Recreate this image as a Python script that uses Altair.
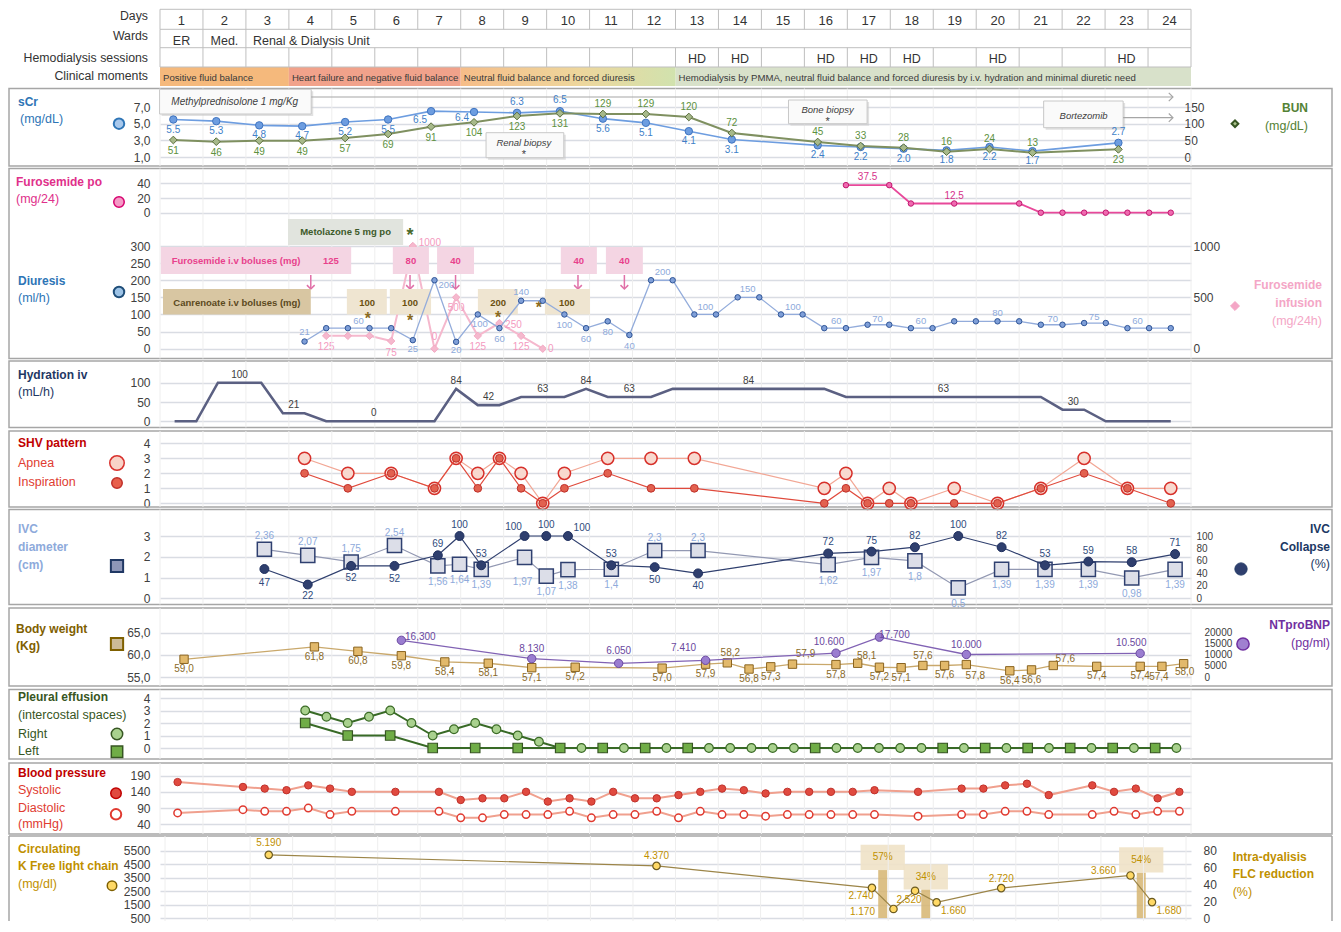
import altair as alt
import pandas as pd

# ------------------------------------------------------------------ data
days = list(range(1, 25))
ward_names = ["ER", "Med.", "Renal & Dialysis Unit"]
ward_start = [1, 2, 3]
ward_end = [1, 2, 24]
hd_days = [13, 14, 16, 17, 18, 20, 23]
moment_names = [
    "Positive fluid balance",
    "Heart failure and negative fluid balance",
    "Neutral fluid balance and forced diuresis",
    "Hemodialysis by PMMA, neutral fluid balance and forced diuresis by i.v. hydration and minimal diuretic need",
]
moment_start = [1, 4, 8, 13]
moment_end = [3, 7, 12, 24]

scr_day = [1, 2, 3, 4, 5, 6, 7, 8, 9, 10, 11, 12, 13, 14, 16, 17, 18, 19, 20, 21, 23]
scr_val = [5.5, 5.3, 4.8, 4.7, 5.2, 5.5, 6.5, 6.4, 6.3, 6.5, 5.6, 5.1, 4.1, 3.1, 2.4, 2.2, 2.0, 1.8, 2.2, 1.7, 2.7]
bun_val = [51, 46, 49, 49, 57, 69, 91, 104, 123, 131, 129, 129, 120, 72, 45, 33, 28, 16, 24, 13, 23]

po_t = [16.5, 17.5, 18, 19, 20.5, 21, 21.5, 22, 22.5, 23, 23.5, 24]
po_val = [37.5, 37.5, 12.5, 12.5, 12.5, 0, 0, 0, 0, 0, 0, 0]
po_lab_t = [17, 19]
po_lab_v = [37.5, 12.5]

diur_t = [4, 4.5, 5, 5.5, 6, 6.5, 7, 7.5, 8, 8.5, 9, 9.5, 10, 10.5, 11, 11.5, 12, 12.5, 13, 13.5,
          14, 14.5, 15, 15.5, 16, 16.5, 17, 17.5, 18, 18.5, 19, 19.5, 20, 20.5, 21, 21.5, 22, 22.5,
          23, 23.5, 24]
diur_val = [21, 60, 60, 60, 60, 25, 200, 20, 100, 60, 140, 140, 100, 60, 80, 40, 200, 200, 100, 100,
            150, 150, 100, 100, 60, 60, 70, 70, 60, 60, 80, 80, 80, 80, 70, 70, 75, 75,
            60, 60, 60]
inf_t = [4.5, 5, 5.5, 6, 6.5, 7, 7.5, 8, 8.5, 9, 9.5]
inf_val = [125, 125, 125, 75, 1000, 0, 500, 125, 250, 125, 0]

hyd_t = [1, 1.5, 2, 3, 3.5, 4, 4.5, 7, 7.5, 8, 8.5, 9, 10, 10.5, 11, 12, 12.5, 16, 16.5, 21, 21.5, 22, 22.5, 24]
hyd_val = [0, 0, 100, 100, 21, 21, 0, 0, 84, 42, 42, 63, 63, 84, 63, 63, 84, 84, 63, 63, 30, 30, 0, 0]
hyd_lab_t = [2.5, 3.75, 5.6, 7.5, 8.25, 9.5, 10.5, 11.5, 14.25, 18.75, 21.75]
hyd_lab_v = [100, 21, 0, 84, 42, 63, 84, 63, 84, 63, 30]

shv_t = [4, 5, 6, 7, 7.5, 8, 8.5, 9, 9.5, 10, 11, 12, 13, 16, 16.5, 17, 17.5, 18, 19, 20, 21, 22, 23, 24]
apnea = [3, 2, 2, 1, 3, 2, 3, 2, 0, 2, 3, 3, 3, 1, 2, 0, 1, 0, 1, 0, 1, 3, 1, 1]
inspiration = [2, 1, 2, 1, 3, 1, 3, 1, 0, 1, 2, 1, 1, 0, 1, 0, 0, 0, 0, 0, 1, 2, 1, 0]

ivc_t = [3, 4, 5, 6, 7, 7.5, 8, 9, 9.5, 10, 11, 12, 13, 16, 17, 18, 19, 20, 21, 22, 23, 24]
ivc_diam = [2.36, 2.07, 1.75, 2.54, 1.56, 1.64, 1.39, 1.97, 1.07, 1.38, 1.4, 2.3, 2.3, 1.62, 1.97, 1.8,
            0.5, 1.39, 1.39, 1.39, 0.98, 1.39]
ivc_coll = [47, 22, 52, 52, 69, 100, 53, 100, 100, 100, 53, 50, 40, 72, 75, 82, 100, 82, 53, 59, 58, 71]

wt_t = [1, 4, 5, 6, 7, 8, 9, 10, 12, 13, 13.5, 14, 14.5, 15, 16, 16.5, 17, 17.5, 18, 18.5, 19, 20,
        20.5, 21, 22, 23, 23.5, 24]
wt_val = [59.0, 61.8, 60.8, 59.8, 58.4, 58.1, 57.1, 57.2, 57.0, 57.9, 58.2, 56.8, 57.3, 57.9, 57.8,
          58.1, 57.2, 57.1, 57.6, 57.6, 57.8, 56.4, 56.6, 57.6, 57.4, 57.4, 57.4, 58.0]
bnp_t = [6, 9, 11, 13, 16, 17, 19, 23]
bnp_val = [16300, 8130, 6050, 7410, 10600, 17700, 10000, 10500]
bnp_lab = ["16,300", "8.130", "6.050", "7.410", "10.600", "17.700", "10.000", "10.500"]

pl_right_t = [4, 4.5, 5, 5.5, 6, 6.5, 7, 7.5, 8, 8.5, 9, 9.5, 10, 10.5, 11, 11.5, 12, 12.5, 13, 13.5,
              14, 14.5, 15, 15.5, 16, 16.5, 17, 17.5, 18, 18.5, 19, 19.5, 20, 20.5, 21, 21.5, 22,
              22.5, 23, 23.5, 24, 24.5]
pl_right = [3, 2.5, 2, 2.5, 3, 2, 1, 1.5, 2, 1.5, 1, 0.5, 0, 0, 0, 0, 0, 0, 0, 0,
            0, 0, 0, 0, 0, 0, 0, 0, 0, 0, 0, 0, 0, 0, 0, 0, 0,
            0, 0, 0, 0, 0]
pl_left_t = [4, 5, 6, 7, 8, 9, 10, 11, 12, 13, 16, 19, 20, 21, 22, 23, 24]
pl_left = [2, 1, 1, 0, 0, 0, 0, 0, 0, 0, 0, 0, 0, 0, 0, 0, 0]

bp_t = [1, 2.5, 3, 3.5, 4, 4.5, 5, 6, 7, 7.5, 8, 8.5, 9, 9.5, 10, 10.5, 11, 11.5, 12, 12.5, 13, 13.5,
        14, 14.5, 15, 15.5, 16, 16.5, 17, 18, 19, 19.5, 20, 20.5, 21, 22, 22.5, 23, 23.5, 24]
bp_sys = [170, 155, 150, 145, 160, 150, 140, 140, 140, 115, 120, 120, 140, 110, 120, 110, 140, 120, 120,
          130, 140, 150, 145, 135, 140, 140, 140, 140, 145, 140, 150, 150, 160, 165, 130, 160, 140,
          150, 120, 140]
bp_dia = [75, 85, 80, 80, 90, 70, 80, 80, 80, 60, 60, 70, 70, 70, 80, 60, 70, 70, 80, 60, 80, 70, 70,
          65, 70, 70, 70, 70, 70, 65, 70, 70, 80, 80, 70, 70, 80, 70, 80, 80]

flc_t = [3, 12, 17, 17.5, 18, 18.5, 20, 23, 23.5]
flc_val = [5190, 4370, 2740, 1170, 2520, 1660, 2720, 3660, 1680]
red_t = [17.25, 18.25, 23.25]
red_val = [57, 34, 54]

# ------------------------------------------------------------------ helpers
FONT = "Liberation Sans, Arial, sans-serif"
W = 1031
XS = alt.Scale(domain=[0.5, 24.5], nice=False, zero=False)
XE = alt.X("d:Q", scale=XS, axis=None)
ONE = pd.DataFrame({"k": [0]})
GRID = "#d9dce3"
BORDER = "#a6a6a6"
VGRID = "#eeeeee"
TBL = "#bfbfbf"
LBL = "#404040"
BOUNDS = [i + 0.5 for i in range(25)]
LEFT, RIGHT = -151, 1172
TS = 12      # title size
VS = 10      # value label size


def txt(s, x, y, color=LBL, size=TS, bold=False, italic=False, align="left"):
    return alt.Chart(ONE).mark_text(
        text=s, font=FONT, fontSize=size, color=color,
        fontWeight="bold" if bold else "normal",
        fontStyle="italic" if italic else "normal",
        align=align, baseline="middle").encode(x=alt.value(x), y=alt.value(y))


def dtxt(s, d, y, color=LBL, size=VS, bold=False, italic=False, align="center", dx=0):
    return alt.Chart(ONE).transform_calculate(d=str(d)).mark_text(
        text=s, font=FONT, fontSize=size, color=color,
        fontWeight="bold" if bold else "normal",
        fontStyle="italic" if italic else "normal",
        align=align, baseline="middle", dx=dx).encode(x=XE, y=alt.value(y))


def mk(x, y, shape, size, fill, stroke, sw=1.5):
    return alt.Chart(ONE).mark_point(
        shape=shape, size=size, filled=True, fill=fill, stroke=stroke,
        strokeWidth=sw, opacity=1).encode(x=alt.value(x), y=alt.value(y))


def dbox(d0, d1, y0, y1, fill, stroke=None, shadow=False, opacity=1):
    out = []
    base = alt.Chart(ONE).transform_calculate(d=str(d0), d2=str(d1))
    if shadow:
        out.append(base.mark_rect(fill="#c8c8c8", opacity=0.55, xOffset=2, x2Offset=2,
                                  yOffset=2, y2Offset=2)
                   .encode(x=XE, x2="d2:Q", y=alt.value(y0), y2=alt.value(y1)))
    kw = dict(fill=fill, opacity=opacity)
    if stroke:
        kw.update(stroke=stroke, strokeWidth=1)
    out.append(base.mark_rect(**kw).encode(x=XE, x2="d2:Q", y=alt.value(y0), y2=alt.value(y1)))
    return out


def hrule(d0, d1, y, color, sw=1):
    return alt.Chart(ONE).transform_calculate(d=str(d0), d2=str(d1)).mark_rule(
        color=color, strokeWidth=sw).encode(x=XE, x2="d2:Q", y=alt.value(y))


def vrules(ds, y0, y1, color, sw=1):
    return alt.Chart(pd.DataFrame({"d": ds})).mark_rule(color=color, strokeWidth=sw).encode(
        x=XE, y=alt.value(y0), y2=alt.value(y1))


def frame(y0, y1, open_bottom=False):
    if not open_bottom:
        return [alt.Chart(ONE).mark_rect(fill="transparent", stroke=BORDER, strokeWidth=1.5).encode(
            x=alt.value(LEFT), x2=alt.value(RIGHT), y=alt.value(y0), y2=alt.value(y1))]
    r = alt.Chart(ONE).mark_rule(color=BORDER, strokeWidth=1.5)
    return [r.encode(x=alt.value(LEFT), x2=alt.value(RIGHT), y=alt.value(y0)),
            r.encode(x=alt.value(LEFT), y=alt.value(y0), y2=alt.value(y1)),
            r.encode(x=alt.value(RIGHT), y=alt.value(y0), y2=alt.value(y1))]


def down_arrow(d, y0, y1, color):
    b = alt.Chart(ONE).transform_calculate(d=str(d))
    return [b.mark_rule(color=color, strokeWidth=1.5).encode(x=XE, y=alt.value(y0), y2=alt.value(y1 - 1)),
            b.mark_point(shape="M-1,-1L0,0L1,-1", size=60, filled=False, stroke=color,
                         strokeWidth=1.5, opacity=1).encode(x=XE, y=alt.value(y1))]


def right_arrow(d0, d1, y, color="#a6a6a6"):
    b = alt.Chart(ONE).transform_calculate(d=str(d1))
    return [hrule(d0, d1, y, color, 1.2),
            b.mark_point(shape="M-1,-1L0,0L-1,1", size=70, filled=False, stroke=color,
                         strokeWidth=1.2, opacity=1).encode(x=XE, y=alt.value(y))]


def series(t, a, b, **cols):
    return alt.Chart(pd.DataFrame({"t": t, **cols})).transform_calculate(d=f"{a} + {b} * datum.t")


def yenc(dom, rng, axis, field="v"):
    return alt.Y(f"{field}:Q", scale=alt.Scale(domain=dom, range=rng, nice=False, zero=False), axis=axis)


def lax(values, expr=None, size=12):
    kw = dict(orient="left", values=values, grid=True, gridColor=GRID, gridWidth=1.5, domain=False,
              ticks=False, labelPadding=10, labelFont=FONT, labelFontSize=size, labelColor=LBL,
              title=None, labelOverlap=False, format="d")
    if expr:
        kw["labelExpr"] = expr
    return alt.Axis(**kw)


def rax(values, offset, size=12):
    return alt.Axis(orient="right", values=values, grid=False, domain=False, ticks=False,
                    labelPadding=0, offset=offset, labelFont=FONT, labelFontSize=size,
                    labelColor=LBL, title=None, labelAlign="left", labelOverlap=False, format="d")


def labels(ch, ts, place, expr, y, color, size=VS, default=None, weight="normal"):
    groups = {}
    for t in ts:
        p = place.get(t, default)
        if p is None:
            continue
        groups.setdefault(p, []).append(t)
    out = []
    for (dx, dy), tl in groups.items():
        out.append(ch.transform_filter(alt.FieldOneOfPredicate(field="t", oneOf=tl))
                   .transform_calculate(lab=expr)
                   .mark_text(font=FONT, fontSize=size, color=color, dx=dx, dy=dy,
                              fontWeight=weight, baseline="middle", align="center")
                   .encode(x=XE, y=y, text="lab:N"))
    return out


def line(ch, y, color, sw=1.5):
    return ch.mark_line(color=color, strokeWidth=sw).encode(x=XE, y=y)


def pts(ch, y, shape, size, fill, stroke, sw=1):
    return ch.mark_point(shape=shape, size=size, filled=True, fill=fill, stroke=stroke,
                         strokeWidth=sw, opacity=1).encode(x=XE, y=y)


COMMA1 = "replace(format(datum.value, '.1f'), '.', ',')"

# ------------------------------------------------------------------ header
hdr = []
mdf = pd.DataFrame({"m": moment_names, "s": moment_start, "e": moment_end, "i": [0, 1, 2, 3]})
mbase = alt.Chart(mdf).transform_calculate(d="datum.s - 0.5", d2="datum.e + 0.5")
mcol = {0: "#f5b97c", 1: "#f1a28b", 3: "#d8e1ca"}
for i, c in mcol.items():
    hdr.append(mbase.transform_filter(f"datum.i == {i}").mark_rect(fill=c)
               .encode(x=XE, x2="d2:Q", y=alt.value(58), y2=alt.value(77)))
grad = alt.LinearGradient(gradient="linear", x1=0, x2=1, y1=0, y2=0, stops=[
    alt.GradientStop(offset=0, color="#f6bd88"),
    alt.GradientStop(offset=0.55, color="#eed69c"),
    alt.GradientStop(offset=1, color="#d1e2ae")])
hdr.append(mbase.transform_filter("datum.i == 2").mark_rect(fill=grad)
           .encode(x=XE, x2="d2:Q", y=alt.value(58), y2=alt.value(77)))
hdr.append(mbase.mark_text(font=FONT, fontSize=9.6, color="#3a3a3a", align="left",
                           baseline="middle", dx=3).encode(x=XE, y=alt.value(68.7), text="m:N"))
for yy in [0.3, 20.3, 38.7, 58.0]:
    hdr.append(hrule(0.5, 24.5, yy, TBL))
hdr.append(vrules(BOUNDS, 0.3, 20.3, TBL))
hdr.append(vrules(BOUNDS, 38.7, 58, TBL))
hdr.append(vrules([s - 0.5 for s in ward_start] + [24.5], 20.3, 38.7, TBL))
hdr.append(alt.Chart(pd.DataFrame({"d": days})).mark_text(
    font=FONT, fontSize=13, color="#333333", baseline="middle").encode(
    x=XE, y=alt.value(12), text="d:Q"))
wdf = pd.DataFrame({"w": ward_names, "s": ward_start, "e": ward_end, "i": [0, 1, 2]})
hdr.append(alt.Chart(wdf).transform_filter("datum.i < 2").transform_calculate(d="(datum.s + datum.e) / 2")
           .mark_text(font=FONT, fontSize=12.5, color="#333333", baseline="middle")
           .encode(x=XE, y=alt.value(31.5), text="w:N"))
hdr.append(alt.Chart(wdf).transform_filter("datum.i == 2").transform_calculate(d="datum.s - 0.5")
           .mark_text(font=FONT, fontSize=12.5, color="#333333", baseline="middle", align="left", dx=7)
           .encode(x=XE, y=alt.value(31.5), text="w:N"))
hdr.append(alt.Chart(pd.DataFrame({"d": hd_days})).mark_text(
    text="HD", font=FONT, fontSize=12.5, color="#333333", baseline="middle").encode(x=XE, y=alt.value(50.3)))
for s, yy in [("Days", 7), ("Wards", 27), ("Hemodialysis sessions", 48.7), ("Clinical moments", 67)]:
    hdr.append(txt(s, -12, yy, color="#333333", size=12.3, align="right"))
row0 = alt.layer(*hdr).properties(width=W, height=78)

# ------------------------------------------------------------------ sCr / BUN
YS = yenc([1, 7], [70, 20], lax([1, 3, 5, 7], COMMA1))
YB = yenc([0, 150], [70, 20], rax([0, 50, 100, 150], -7))
scr_c = series(scr_day, -0.19, 1, v=scr_val)
bun_c = series(scr_day, -0.19, 1, v=bun_val)
l1 = frame(1.5, 79) + [vrules(BOUNDS, 1.5, 79, VGRID)]
l1 += dbox(0.49, 4.02, 2.3, 27, "#fafafa", "#c8c8c8", shadow=True)
l1 += [dtxt("Methylprednisolone 1 mg/Kg", 2.24, 15.2, italic=True, size=10)]
l1 += right_arrow(4.02, 24.08, 10)
l1 += dbox(8.09, 9.9, 45.7, 70.7, "#fafafa", "#c8c8c8", shadow=True)
l1 += [dtxt("Renal biopsy", 8.97, 56.2, italic=True, size=9.5), dtxt("*", 8.97, 67.5, size=11)]
l1 += dbox(15.13, 16.96, 13, 36.7, "#fafafa", "#c8c8c8", shadow=True)
l1 += [dtxt("Bone biopsy", 16.04, 23.2, italic=True, size=9.5), dtxt("*", 16.04, 34.5, size=11)]
l1 += dbox(21.07, 22.92, 14, 40.7, "#fafafa", "#c8c8c8", shadow=True)
l1 += [dtxt("Bortezomib", 22.0, 29, italic=True, size=9.5)]
l1 += right_arrow(22.92, 24.08, 30.7)
l1 += [line(scr_c, YS, "#6d9de0", 1.6), pts(scr_c, YS, "circle", 55, "#6d9de0", "#3f74c0")]
scr_place = {9: (0, -11), 10: (0, -11), 23: (0, -11), 7: (-11, 9), 8: (-12, 6)}
l1 += labels(scr_c, scr_day, scr_place, "format(datum.v, '.1f')", YS, "#3f7fc8", default=(0, 10))
l1 += [txt("sCr", -142, 15, "#2e75b6", bold=True), txt("(mg/dL)", -140, 32, "#2e75b6", size=12.5),
       mk(-41, 36.7, "circle", 110, "#a8c8ec", "#2e75b6", 2)]
r1 = [line(bun_c, YB, "#7f9060", 2), pts(bun_c, YB, "diamond", 60, "#a7b98a", "#5b6e3d")]
bun_place = {d: (0, -10) for d in [11, 12, 13, 14, 16, 17, 18, 19, 20, 21]}
r1 += labels(bun_c, scr_day, bun_place, "toString(datum.v)", YB, "#5d9140", default=(0, 11))
r1 += [txt("BUN", 1148, 20.7, "#548235", bold=True, align="right"),
       txt("(mg/dL)", 1148, 39, "#548235", size=12.5, align="right"),
       mk(1075, 36.7, "diamond", 45, "#a9c08a", "#375623", 2)]
row1 = alt.layer(alt.layer(*l1), alt.layer(*r1)).resolve_scale(y="independent").properties(width=W, height=80)

# ------------------------------------------------------------------ Furosemide po
HALF_A, HALF_B = -0.168, 1.0082
YP = yenc([0, 40], [45.7, 16.3], lax([0, 20, 40]))
po_c = series(po_t, HALF_A, HALF_B, v=po_val)
po_l = series(po_lab_t, HALF_A, HALF_B, v=po_lab_v)
l2a = frame(1.5, 191.5) + [vrules(BOUNDS, 1.5, 59, VGRID)]
l2a += [line(po_c, YP, "#e8489a", 1.8), pts(po_c, YP, "circle", 30, "#f06ab0", "#c0186e")]
l2a += [po_l.transform_calculate(lab="format(datum.v, '.1f')").mark_text(
    font=FONT, fontSize=VS, color="#d6338a", dy=-8).encode(x=XE, y=YP, text="lab:N")]
l2a += [txt("Furosemide  po", -144, 15, "#e0308a", bold=True), txt("(mg/24)", -144, 32, "#e0308a", size=12.5),
        mk(-41, 35, "circle", 110, "#f59ac6", "#d6006e", 1.5)]
row2a = alt.layer(*l2a).properties(width=W, height=59)

# ------------------------------------------------------------------ Diuresis
YD = yenc([0, 300], [122.7, 20], lax([0, 50, 100, 150, 200, 250, 300]))
YI = yenc([0, 1000], [122.7, 20], rax([0, 500, 1000], 2))
diur_c = series(diur_t, HALF_A, HALF_B, v=diur_val)
inf_c = series(inf_t, HALF_A, HALF_B, v=inf_val)
PINKBOX, PINKTXT, PINKARR = "#f4d5e3", "#e8418c", "#e070a8"
l2b = [vrules(BOUNDS, 0, 132.5, VGRID)]
l2b += dbox(3.48, 6.16, -7, 19, "#e1e4de")
l2b += [dtxt("Metolazone 5 mg po", 4.82, 6, "#3d5a2a", size=9.5, bold=True),
        dtxt("*", 6.32, 10, "#4a6a2a", size=18, bold=True)]
l2b += dbox(0.52, 4.95, 21, 48, PINKBOX)
l2b += [dtxt("Furosemide i.v boluses (mg)", 2.27, 34.5, PINKTXT, size=9.5, bold=True),
        dtxt("125", 4.48, 34.5, PINKTXT, size=9.5, bold=True)]
for (a, b_, c), s in zip([(5.92, 6.76, 6.34), (6.95, 7.81, 7.38), (9.83, 10.67, 10.25),
                          (10.88, 11.74, 11.31)], ["80", "40", "40", "40"]):
    l2b += dbox(a, b_, 21, 48, PINKBOX)
    l2b += [dtxt(s, c, 34.5, PINKTXT, size=9.5, bold=True)]
for d in [4.01, 6.32, 7.38, 10.23, 11.31]:
    l2b += down_arrow(d, 49, 63, PINKARR)
l2b += dbox(0.57, 4.01, 63, 88.5, "#d8c6a2")
l2b += [dtxt("Canrenoate i.v boluses (mg)", 2.29, 76.5, "#5c4a1e", size=9.5, bold=True)]
for (a, b_, c), s in zip([(4.85, 5.78, 5.32), (5.85, 6.81, 6.32), (7.9, 8.83, 8.37), (9.46, 10.51, 9.97)],
                         ["100", "100", "200", "100"]):
    l2b += dbox(a, b_, 63, 88.5, "#efe5d1")
    l2b += [dtxt(s, c, 76.5, "#6b5010", size=9.5, bold=True)]
for d, yy in [(5.34, 93), (6.32, 95), (8.37, 91.5), (9.32, 81.5)]:
    l2b += [dtxt("*", d, yy, "#8a6a20", size=16, bold=True)]
l2b += [txt("Diuresis", -142, 55, "#2e75b6", bold=True), txt("(ml/h)", -142, 72, "#2e75b6", size=12.5),
        mk(-41, 66, "circle", 110, "#9dc3e6", "#1f4e79", 2)]
r2b = [line(inf_c, YI, "#f5b8cd", 2), pts(inf_c, YI, "diamond", 55, "#f5b8cd", "#f3a9c3")]
inf_place = {4.5: (0, 11), 6: (0, 12), 6.5: (17, -3), 7: (0, -12), 7.5: (0, 11), 8: (0, 11),
             8.5: (14, 2), 9: (0, 11), 9.5: (8, 0)}
r2b += labels(inf_c, inf_t, inf_place, "toString(datum.v)", YI, "#f49ac0")
r2b += [txt("Furosemide", 1162, 59, "#f4a6c6", bold=True, align="right"),
        txt("infusion", 1162, 76.7, "#f4a6c6", bold=True, align="right"),
        txt("(mg/24h)", 1162, 95, "#f4a6c6", size=12.5, align="right"),
        mk(1075, 80, "diamond", 80, "#f4a6c6", "#f4a6c6", 1)]
l2b += [line(diur_c, YD, "#93acdb", 1.3), pts(diur_c, YD, "circle", 30, "#7f9fd8", "#2f5597")]
diur_place = {4: (0, -10), 5.5: (-11, -7), 6.5: (0, 9), 7: (12, 5), 7.5: (0, 8), 8: (2, 10),
              8.5: (0, 11), 9: (0, -9), 10: (0, 11), 10.5: (0, 11), 11: (0, 11), 11.5: (0, 11),
              12.5: (-10, -8), 13: (11, -7), 14: (10, -8), 15: (12, -7), 16: (12, -7), 17: (10, -6),
              18: (10, -7), 20: (0, -8), 21: (12, -6), 22: (10, -6), 23: (10, -7)}
l2b += labels(diur_c, diur_t, diur_place, "toString(datum.v)", YD, "#8eaadb", size=9.5)
row2b = alt.layer(alt.layer(*r2b), alt.layer(*l2b)).resolve_scale(y="independent").properties(width=W, height=133)

# ------------------------------------------------------------------ Hydration
YH = yenc([0, 100], [62.3, 23.7], lax([0, 50, 100]))
hyd_c = series(hyd_t, HALF_A, HALF_B, v=hyd_val)
hyd_l = series(hyd_lab_t, HALF_A, HALF_B, v=hyd_lab_v)
l3 = frame(2, 68.5) + [vrules(BOUNDS, 2, 68.5, VGRID)]
l3 += [line(hyd_c, YH, "#5b6082", 2.6),
       hyd_l.transform_calculate(lab="toString(datum.v)").mark_text(
           font=FONT, fontSize=VS, color=LBL, dy=-8).encode(x=XE, y=YH, text="lab:N")]
l3 += [txt("Hydration iv", -142, 16, "#1f3864", bold=True), txt("(mL/h)", -142, 33, "#1f3864", size=12.5)]
row3 = alt.layer(*l3).properties(width=W, height=70)

# ------------------------------------------------------------------ SHV
YV = yenc([0, 4], [74.3, 14.3], lax([0, 1, 2, 3, 4]))
ap_c = series(shv_t, HALF_A, HALF_B, v=apnea)
in_c = series(shv_t, HALF_A, HALF_B, v=inspiration)
l4 = frame(2, 78) + [vrules(BOUNDS, 2, 78, VGRID)]
l4 += [line(ap_c, YV, "#f2a795", 1.2), pts(ap_c, YV, "circle", 150, "#f8d9cf", "#d7302a", 1.5),
       line(in_c, YV, "#e04a3c", 1.2), pts(in_c, YV, "circle", 60, "#e2614f", "#c0302a", 1)]
l4 += [txt("SHV pattern", -142, 14, "#c00000", bold=True), txt("Apnea", -142, 34, "#e03c31", size=12.5),
       txt("Inspiration", -142, 53, "#e03c31", size=12.5),
       mk(-43, 34, "circle", 210, "#f8d3c8", "#d9302c", 1.5),
       mk(-43, 54, "circle", 110, "#e8604c", "#c0302a", 1.5)]
row4 = alt.layer(*l4).properties(width=W, height=79)

# ------------------------------------------------------------------ IVC
IVC_A, IVC_B = -0.0985, 1.0095
YDm = yenc([0, 3], [90.3, 28], lax([0, 1, 2, 3]))
YC = yenc([0, 100], [90.3, 28], rax([0, 20, 40, 60, 80, 100], 5, 10))
dm_c = series(ivc_t, IVC_A, IVC_B, v=ivc_diam)
co_c = series(ivc_t, IVC_A, IVC_B, v=ivc_coll)
l5 = frame(1.5, 96.5) + [vrules(BOUNDS, 1.5, 96.5, VGRID)]
l5 += [line(dm_c, YDm, "#9298b2", 1.2), pts(dm_c, YDm, "square", 200, "#dcdee8", "#2f4070", 1.5)]
dm_place = {t: (0, -13) for t in [3, 4, 5, 6, 12, 13]}
dm_place[9] = (-2, 25)
l5 += labels(dm_c, ivc_t, dm_place, "replace(toString(datum.v), '.', ',')", YDm, "#8eaadb",
             default=(0, 16))
l5 += [txt("IVC", -142, 21, "#8eaadb", bold=True), txt("diameter", -142, 39, "#8eaadb", bold=True),
       txt("(cm)", -142, 57, "#8eaadb", bold=True),
       mk(-43, 58, "square", 150, "#8d96b8", "#203864", 2)]
r5 = [line(co_c, YC, "#2f3f6e", 1.2), pts(co_c, YC, "circle", 80, "#2f3f6e", "#1f2f5e", 1)]
co_place = {3: (0, 14), 4: (0, 11), 5: (0, 12), 6: (0, 13), 12: (0, 13), 13: (0, 13),
            9: (-11, -9), 10: (14, -8)}
r5 += labels(co_c, ivc_t, co_place, "toString(datum.v)", YC, "#2f4b7c", default=(0, -11))
r5 += [txt("IVC", 1170, 21, "#203864", bold=True, align="right"),
       txt("Collapse", 1170, 39, "#203864", bold=True, align="right"),
       txt("(%)", 1170, 56, "#203864", size=12.5, align="right"),
       mk(1081, 61, "circle", 150, "#2f3f6e", "#203864", 1)]
row5 = alt.layer(alt.layer(*l5), alt.layer(*r5)).resolve_scale(y="independent").properties(width=W, height=98)

# ------------------------------------------------------------------ Body weight / NTproBNP
WT_A, WT_B = 0.048, 1.0117
YW = yenc([55, 65], [71, 26.7], lax([55, 60, 65], COMMA1))
YN = yenc([0, 20000], [71, 26], rax([0, 5000, 10000, 15000, 20000], 13, 10))
wt_c = series(wt_t, WT_A, WT_B, v=wt_val)
bnp_c = series(bnp_t, WT_A, WT_B, v=bnp_val, lab0=bnp_lab)
l6 = frame(2, 80) + [vrules(BOUNDS, 2, 80, VGRID)]
l6 += [line(wt_c, YW, "#c9a86b", 1.3), pts(wt_c, YW, "square", 70, "#e2b96b", "#8a6420", 1)]
wt_place = {13.5: (3, -10), 15: (13, -10), 16.5: (9, -7), 18: (0, -9), 21: (12, -6), 19: (9, 11),
            23.5: (-3, 11), 24: (1, 8)}
l6 += labels(wt_c, wt_t, wt_place, "replace(format(datum.v, '.1f'), '.', ',')", YW, "#8a6a28",
             default=(0, 10))
l6 += [txt("Body weight", -144, 23, "#7f6000", bold=True), txt("(Kg)", -144, 40, "#7f6000", bold=True),
       mk(-43, 38, "square", 150, "#cdbb98", "#7f6000", 2)]
r6 = [line(bnp_c, YN, "#8162b4", 1.3), pts(bnp_c, YN, "circle", 70, "#9a7dd0", "#6a48a0", 1)]
bnp_place = {6: (19, -3), 9: (0, -10), 11: (0, -12), 13: (-22, -12), 16: (-7, -11), 17: (15, -2),
             19: (0, -10), 23: (-9, -10)}
r6 += labels(bnp_c, bnp_t, bnp_place, "datum.lab0", YN, "#6a48a0")
r6 += [txt("NTproBNP", 1170, 19, "#7030a0", bold=True, align="right"),
       txt("(pg/ml)", 1170, 37, "#7030a0", size=12.5, align="right"),
       mk(1083, 38, "circle", 150, "#a080d0", "#7030a0", 1.5)]
row6 = alt.layer(alt.layer(*l6), alt.layer(*r6)).resolve_scale(y="independent").properties(width=W, height=81)

# ------------------------------------------------------------------ Pleural effusion
PL_A, PL_B = -0.077, 0.9893
YL = yenc([0, 4], [61, 11], lax([0, 1, 2, 3, 4]))
pr_c = series(pl_right_t, PL_A, PL_B, v=pl_right)
plf_c = series(pl_left_t, PL_A, PL_B, v=pl_left)
l7 = frame(2.5, 72) + [vrules(BOUNDS, 2.5, 72, VGRID)]
l7 += [line(pr_c, YL, "#386a26", 2), line(plf_c, YL, "#386a26", 2),
       pts(pr_c, YL, "circle", 75, "#a9d18e", "#3a6b25", 1.2),
       pts(plf_c, YL, "square", 90, "#70ad47", "#375623", 1.2)]
l7 += [txt("Pleural effusion", -142, 10, "#375623", bold=True),
       txt("(intercostal spaces)", -142, 28, "#375623", size=12.5),
       txt("Right", -142, 46.7, "#375623", size=12.5), txt("Left", -142, 64, "#375623", size=12.5),
       mk(-43, 47, "circle", 130, "#a9d18e", "#375623", 1.5),
       mk(-43, 64.7, "square", 130, "#70ad47", "#375623", 1.5)]
row7 = alt.layer(*l7).properties(width=W, height=74)

# ------------------------------------------------------------------ Blood pressure
BP_A, BP_B = -0.104, 1.0139
YBp = yenc([40, 190], [63.3, 14.6], lax([40, 90, 140, 190]))
sys_c = series(bp_t, BP_A, BP_B, v=bp_sys)
dia_c = series(bp_t, BP_A, BP_B, v=bp_dia)
l8 = frame(2, 73) + [vrules(BOUNDS, 2, 73, VGRID)]
l8 += [line(sys_c, YBp, "#f0a08e", 2), line(dia_c, YBp, "#f0a08e", 2),
       pts(sys_c, YBp, "circle", 55, "#e04a3f", "#c0302a", 1),
       pts(dia_c, YBp, "circle", 55, "#ffffff", "#e03a30", 1.5)]
l8 += [txt("Blood pressure", -142, 11.7, "#c00000", bold=True),
       txt("Systolic", -142, 29.3, "#e03c31", size=12.5),
       txt("Diastolic", -142, 46.7, "#e03c31", size=12.5), txt("(mmHg)", -142, 62.7, "#e03c31", size=12.5),
       mk(-44, 32.3, "circle", 110, "#e04a3f", "#c00000", 1.5),
       mk(-44, 53.3, "circle", 110, "#ffffff", "#e03a30", 2)]
row8 = alt.layer(*l8).properties(width=W, height=74)

# ------------------------------------------------------------------ FLC
FL_A, FL_B = -0.1, 1.0128
FR = [83, 15.7]
YF = yenc([500, 5500], FR, lax([500, 1500, 2500, 3500, 4500, 5500]))
RAX9 = rax([0, 20, 40, 60, 80], 12)
YR = yenc([0, 80], FR, RAX9)
flc_c = series(flc_t, FL_A, FL_B, v=flc_val)
red_c = series(red_t, FL_A, FL_B, v=red_val)
r9 = [red_c.mark_bar(size=9, color="#d6b571", opacity=0.85).encode(x=XE, y=YR),
      red_c.transform_calculate(d0="datum.d - 0.52", d1="datum.d + 0.52", lo="datum.v",
                                hi="datum.v + 30")
      .mark_rect(fill="#efe2c6", opacity=0.9)
      .encode(x=alt.X("d0:Q", scale=XS, axis=None), x2="d1:Q",
              y=yenc([0, 80], FR, RAX9, "hi"), y2="lo:Q"),
      red_c.transform_calculate(mid="datum.v + 15", lab="datum.v + '%'")
      .mark_text(font=FONT, fontSize=VS, color="#bf9000")
      .encode(x=XE, y=yenc([0, 80], FR, RAX9, "mid"), text="lab:N")]
r9 += [txt("Intra-dyalisis", 1072.7, 22, "#bf9000", bold=True),
       txt("FLC reduction", 1072.7, 39, "#bf9000", bold=True),
       txt("(%)", 1072.7, 57, "#bf9000", size=12.5)]
l9 = frame(1, 86, open_bottom=True) + [vrules(BOUNDS, 1, 86, VGRID)]
l9 += [line(flc_c, YF, "#9c8548", 1.2), pts(flc_c, YF, "circle", 55, "#ffd966", "#6b5a20", 1.2)]
flc_place = {3: (0, -12), 12: (0, -10), 17: (-11, 8), 17.5: (-31, 3), 18: (-6, 9), 18.5: (17, 9),
             20: (0, -9), 23: (-27, -4), 23.5: (17, 9)}
l9 += labels(flc_c, flc_t, flc_place, "replace(format(datum.v, ','), ',', '.')", YF, "#bf9000")
l9 += [txt("Circulating", -142, 14, "#bf9000", bold=True),
       txt("K Free light chain", -142, 30.7, "#bf9000", bold=True),
       txt("(mg/dl)", -142, 49, "#bf9000", size=12.5),
       mk(-48, 50.7, "circle", 90, "#ffd966", "#7f6000", 1.5)]
row9 = alt.layer(alt.layer(*r9), alt.layer(*l9)).resolve_scale(y="independent").properties(width=W, height=86)

chart = alt.vconcat(row0, row1, row2a, row2b, row3, row4, row5, row6, row7, row8, row9,
                    spacing=0, bounds="flush").resolve_scale(x="independent", y="independent") \
    .properties(padding=0).configure_view(stroke=None)

chart.save("out.html", embed_options={"renderer": "svg", "actions": False})
